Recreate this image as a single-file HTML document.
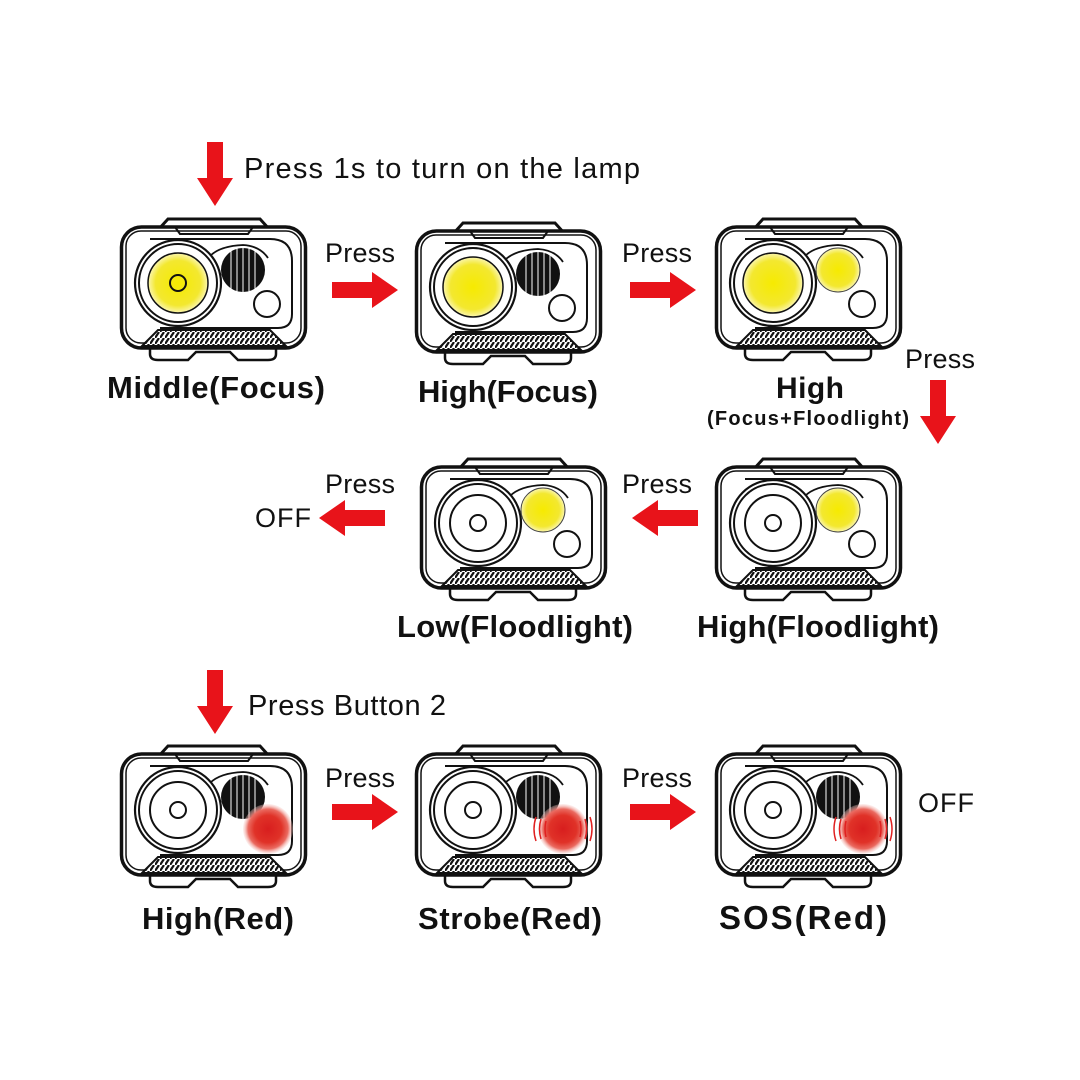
<!DOCTYPE html>
<html><head><meta charset="utf-8"><style>html,body{margin:0;padding:0;background:#fff}svg{display:block}text{font-family:"Liberation Sans",sans-serif;fill:#111}</style></head><body>
<svg width="1080" height="1080" viewBox="0 0 1080 1080" xmlns="http://www.w3.org/2000/svg">
<defs>
<radialGradient id="yg"><stop offset="0" stop-color="#f6ea00"/><stop offset="0.75" stop-color="#f3e830"/><stop offset="1" stop-color="#fbf6b0"/></radialGradient>
<radialGradient id="rg"><stop offset="0" stop-color="#d81e1e"/><stop offset="0.55" stop-color="#e03228"/><stop offset="0.8" stop-color="#ea6a60"/><stop offset="1" stop-color="#f8d0cc" stop-opacity="0.3"/></radialGradient>
<pattern id="hatch" width="5" height="6" patternUnits="userSpaceOnUse"><rect width="5" height="6" fill="#fff"/><path d="M0 6 L4 0" stroke="#111" stroke-width="2.2"/></pattern>
<g id="lamp" fill="none" stroke="#111">
<path d="M38 12 L48 1 L140 1 L150 12" stroke-width="3" fill="#fff"/>
<path d="M30 128 L30 136 Q30 142 38 142 L68 142 L76 134 L110 134 L118 142 L148 142 Q156 142 156 136 L156 128" stroke-width="2.5" fill="#fff"/>
<rect x="1.5" y="9" width="184" height="121" rx="20" stroke-width="3.5" fill="#fff"/>
<rect x="6" y="13" width="175" height="112" rx="15" stroke-width="1.5"/>
<path d="M55 9 L60 16 L128 16 L133 9" stroke-width="2"/>
<path d="M22 128 L38 112 L150 112 L166 128 Z" fill="url(#hatch)" stroke-width="2"/>
<path d="M30 21 L150 21 Q172 21 172 43 L172 96 Q172 110 158 110 L40 110" stroke-width="2"/>
<path d="M90 38 Q100 28 123 27 Q140 28 148 40" stroke-width="1.8"/>
<circle cx="58" cy="65" r="43" stroke-width="2.2" fill="#fff"/>
<circle cx="58" cy="65" r="39" stroke-width="2"/>
<circle cx="58" cy="65" r="28" stroke-width="2"/>
<circle cx="147" cy="86" r="13" stroke-width="2" fill="#fff"/>
</g>
<g id="blk"><circle cx="123" cy="52" r="22" fill="#111"/><path d="M111 32 V72 M117 30 V74 M123 30 V74 M129 30 V74 M135 32 V72" stroke="#fff" stroke-width="1"/></g>
<g id="dot"><circle cx="58" cy="65" r="8" fill="none" stroke="#111" stroke-width="2"/></g>
<g id="ylens"><circle cx="58" cy="65" r="30" fill="url(#yg)" stroke="#111" stroke-width="1.5"/></g>
<g id="yside"><circle cx="123" cy="52" r="22" fill="url(#yg)" stroke="#444" stroke-width="1"/></g>
<g id="red"><circle cx="148" cy="84" r="25" fill="url(#rg)"/></g>
<g id="arcs" fill="none" stroke="#e02020" stroke-width="1.5"><path d="M121 72 Q117 84 121 96 M126 74 Q123 84 126 94 M131 76 Q129 84 131 92 M175 72 Q179 84 175 96 M170 74 Q173 84 170 94 M165 76 Q167 84 165 92"/></g>
<path id="ar" d="M0 -8 H40 V-18 L66 0 L40 18 V8 H0 Z" fill="#e8131a"/>
<path id="ad" d="M-8 0 H8 V36 H18 L0 64 L-18 36 H-8 Z" fill="#e8131a"/>
</defs>

<use href="#ad" x="215" y="142"/>
<text x="244" y="178" font-size="29" textLength="396">Press 1s to turn on the lamp</text>
<g transform="translate(120,218)"><use href="#lamp"/><use href="#blk"/><use href="#ylens"/><use href="#dot"/></g>
<g transform="translate(415,222)"><use href="#lamp"/><use href="#blk"/><use href="#ylens"/></g>
<g transform="translate(715,218)"><use href="#lamp"/><use href="#ylens"/><use href="#yside"/></g>
<text x="325" y="262" font-size="27" textLength="70">Press</text>
<use href="#ar" x="332" y="290"/>
<text x="622" y="262" font-size="27" textLength="70">Press</text>
<use href="#ar" x="630" y="290"/>
<text x="216" y="398" font-size="31" font-weight="bold" text-anchor="middle" textLength="218">Middle(Focus)</text>
<text x="508" y="402" font-size="31" font-weight="bold" text-anchor="middle" textLength="180">High(Focus)</text>
<text x="810" y="398" font-size="30" font-weight="bold" text-anchor="middle" textLength="68">High</text>
<text x="808" y="425" font-size="20" font-weight="bold" text-anchor="middle" textLength="202">(Focus+Floodlight)</text>
<text x="905" y="368" font-size="27" textLength="70">Press</text>
<use href="#ad" x="938" y="380"/>

<g transform="translate(420,458)"><use href="#lamp"/><use href="#yside"/><use href="#dot"/></g>
<g transform="translate(715,458)"><use href="#lamp"/><use href="#yside"/><use href="#dot"/></g>
<text x="325" y="493" font-size="27" textLength="70">Press</text>
<text x="255" y="527" font-size="27" textLength="56">OFF</text>
<use href="#ar" transform="translate(385,518) scale(-1,1)"/>
<text x="622" y="493" font-size="27" textLength="70">Press</text>
<use href="#ar" transform="translate(698,518) scale(-1,1)"/>
<text x="515" y="637" font-size="31" font-weight="bold" text-anchor="middle" textLength="236">Low(Floodlight)</text>
<text x="818" y="637" font-size="31" font-weight="bold" text-anchor="middle" textLength="242">High(Floodlight)</text>

<use href="#ad" x="215" y="670"/>
<text x="248" y="715" font-size="29" textLength="198">Press Button 2</text>
<g transform="translate(120,745)"><use href="#lamp"/><use href="#blk"/><use href="#dot"/><use href="#red"/></g>
<g transform="translate(415,745)"><use href="#lamp"/><use href="#blk"/><use href="#dot"/><use href="#red"/><use href="#arcs"/></g>
<g transform="translate(715,745)"><use href="#lamp"/><use href="#blk"/><use href="#dot"/><use href="#red"/><use href="#arcs"/></g>
<text x="325" y="787" font-size="27" textLength="70">Press</text>
<use href="#ar" x="332" y="812"/>
<text x="622" y="787" font-size="27" textLength="70">Press</text>
<use href="#ar" x="630" y="812"/>
<text x="918" y="812" font-size="27" textLength="56">OFF</text>
<text x="218" y="929" font-size="31" font-weight="bold" text-anchor="middle" textLength="152">High(Red)</text>
<text x="510" y="929" font-size="31" font-weight="bold" text-anchor="middle" textLength="184">Strobe(Red)</text>
<text x="803" y="929" font-size="33" font-weight="bold" text-anchor="middle" textLength="168">SOS(Red)</text>
</svg>
</body></html>
